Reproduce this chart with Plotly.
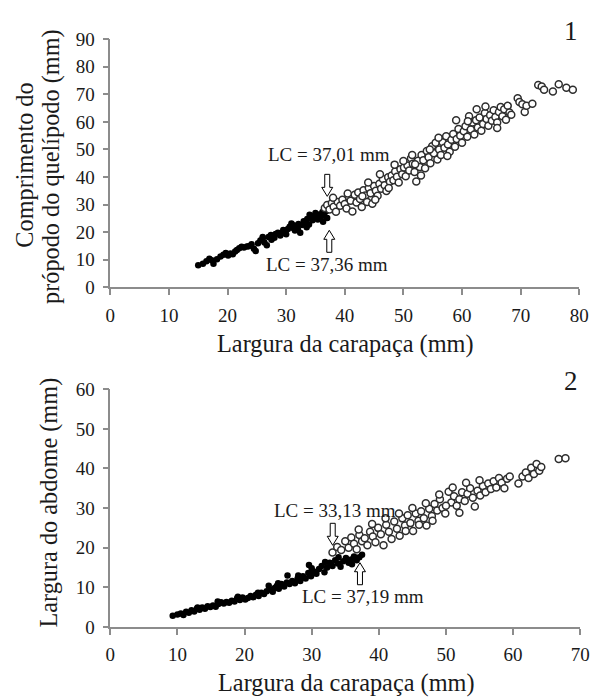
import plotly.graph_objects as go

# ---------------- Panel 1: Comprimento do própodo vs Largura da carapaça ----------------
p1_juv_x = [15.0, 15.8, 16.4, 16.9, 17.3, 17.6, 18.2, 18.8, 19.3, 19.7, 20.1, 20.5, 20.9, 21.3, 21.6,
            22.0, 22.4, 22.8, 23.3, 24.1, 24.5, 24.8, 25.2, 25.6, 26.0, 26.3, 26.7, 27.0, 27.4, 27.8,
            28.2, 28.6, 29.0, 29.3, 29.7, 30.0, 30.3, 30.6, 30.9, 31.2, 31.5, 31.8, 32.1, 32.4, 32.7,
            33.0, 33.3, 33.6, 33.9, 34.2, 34.5, 34.8, 35.1, 35.4, 35.7, 36.0, 36.2, 36.5, 36.8, 37.0,
            37.2, 31.0, 29.5, 27.5, 28.0, 33.5, 35.0, 36.3, 34.0, 32.0, 26.0, 23.6]
p1_juv_y = [8.0, 8.6, 9.5, 10.4, 9.8, 8.6, 10.2, 11.2, 11.8, 12.5, 11.6, 12.3, 12.0, 13.0, 13.6,
            14.2, 14.7, 14.5, 14.8, 15.6, 14.0, 13.2, 16.0, 17.0, 17.8, 16.3, 15.3, 18.3, 19.0, 18.6,
            19.4, 19.8, 18.8, 19.6, 20.2, 19.3, 21.2, 22.0, 23.2, 21.5, 20.6, 22.4, 23.0, 19.8, 22.6,
            24.0, 23.2, 24.8, 22.8, 25.2, 24.3, 26.0, 25.3, 24.6, 26.4, 25.8, 27.3, 26.1, 27.6, 25.2,
            28.3, 22.8, 20.8, 17.3, 18.0, 21.8, 27.0, 23.8, 26.3, 21.0, 18.3, 14.9]

p1_ad_x = [36.6, 37.0, 37.4, 37.8, 38.1, 38.5, 38.8, 39.2, 39.6, 40.0, 40.3, 40.7, 41.0, 41.3, 41.7,
           42.0, 42.3, 42.6, 42.9, 43.2, 43.5, 43.8, 44.1, 44.4, 44.7, 45.0, 45.3, 45.6, 45.9, 46.2,
           46.5, 46.8, 47.1, 47.4, 47.7, 48.0, 48.3, 48.6, 48.9, 49.2, 49.5, 49.8, 50.1, 50.4, 50.7,
           51.0, 51.3, 51.6, 51.9, 52.2, 52.5, 52.8, 53.1, 53.4, 53.7, 54.0, 54.3, 54.6, 54.9, 55.2,
           55.5, 55.8, 56.1, 56.4, 56.7, 57.0, 57.3, 57.6, 57.9, 58.2, 58.5, 58.8, 59.1, 59.4, 59.7,
           60.0, 60.3, 60.6, 60.9, 61.2, 61.5, 61.8, 62.1, 62.4, 62.7, 63.0, 63.3, 63.6, 63.9, 64.2,
           64.5, 64.8, 65.1, 65.4, 65.7, 66.0, 66.3, 66.6, 66.9, 67.2, 67.5, 67.8, 68.1, 68.4, 69.5,
           69.8, 70.3, 70.7, 71.0, 72.0, 73.0, 73.6, 74.0, 75.5, 76.5, 77.8, 78.9,
           43.0, 45.2, 47.5, 50.0, 52.0, 53.0, 54.5, 56.0, 57.5, 59.0, 61.0, 62.5, 64.0, 66.0,
           40.5, 38.0, 44.0, 46.0, 48.5, 51.5]
p1_ad_y = [28.8, 29.9, 28.2, 30.6, 29.2, 27.4, 31.0, 29.6, 31.8, 30.2, 28.6, 32.9, 31.4, 27.5, 33.6,
           30.8, 34.4, 32.0, 29.1, 35.2, 33.3, 31.0, 36.0, 34.1, 30.3, 36.8, 35.0, 33.2, 37.6, 35.8,
           39.3, 37.0, 34.9, 39.9, 38.3, 40.6, 38.8, 42.0, 40.1, 38.0, 42.8, 41.0, 43.5, 40.3, 44.2,
           42.4, 46.8, 44.8, 41.8, 38.4, 45.9, 43.6, 48.0, 46.1, 43.2, 49.4, 47.2, 45.0, 51.2, 48.6,
           52.4, 46.4, 50.0, 48.0, 52.6, 50.6, 54.8, 51.8, 49.2, 53.5, 55.6, 51.0, 53.8, 57.4, 55.0,
           52.4, 56.6, 58.4, 54.6, 62.0, 57.2, 59.8, 55.4, 60.6, 58.0, 61.6, 56.8, 59.2, 63.2, 61.0,
           58.6, 62.4, 60.4, 64.2, 61.8, 59.8, 63.6, 65.4, 62.0, 64.6, 60.8, 65.8, 63.4, 62.6, 68.6,
           67.2, 66.4, 63.6, 65.8, 66.6, 73.4, 72.8, 71.6, 71.0, 73.6, 72.4, 71.6,
           33.0, 31.8, 36.0, 45.8, 44.6, 40.6, 50.0, 54.2, 47.6, 60.6, 60.2, 64.6, 65.6, 57.8,
           34.0, 32.5, 38.0, 41.0, 44.5, 48.0]

# ---------------- Panel 2: Largura do abdome vs Largura da carapaça ----------------
p2_juv_x = [9.3, 10.0, 10.5, 10.9, 11.3, 11.7, 12.1, 12.5, 12.9, 13.3, 13.7, 14.1, 14.5, 14.9, 15.3,
            15.7, 16.1, 16.5, 16.9, 17.3, 17.7, 18.1, 18.5, 18.9, 19.3, 19.7, 20.1, 20.5, 20.9, 21.3,
            21.7, 22.1, 22.5, 22.9, 23.3, 23.6, 23.9, 24.2, 24.5, 24.8, 25.1, 25.5, 25.9, 26.3, 26.4,
            26.7, 27.1, 27.5, 27.9, 28.3, 28.7, 29.1, 29.5, 29.6, 29.9, 30.3, 30.7, 31.1, 31.5, 31.9,
            32.3, 32.7, 33.1, 33.5, 33.9, 34.3, 34.7, 35.1, 35.5, 35.9, 36.3, 36.7, 37.1, 37.5,
            30.0, 28.0, 32.0, 34.0, 36.0, 25.0, 22.0, 19.0, 16.0, 13.0]
p2_juv_y = [2.8, 3.1, 3.4, 3.0, 3.8, 3.6, 4.2, 3.9, 4.6, 4.3, 4.9, 4.6, 5.2, 5.0, 5.4,
            5.1, 5.8, 6.2, 5.9, 6.3, 6.1, 6.6, 6.4, 7.2, 6.8, 7.4, 6.9, 7.3, 7.8, 7.5,
            8.1, 7.8, 8.6, 8.3, 9.0, 10.4, 9.4, 8.9, 9.8, 10.3, 9.6, 10.8, 10.2, 11.2, 13.0,
            10.8, 11.6, 11.0, 12.2, 11.6, 12.8, 12.2, 13.6, 15.6, 12.8, 14.0, 13.4, 14.6, 15.4, 13.8,
            15.0, 16.2, 15.4, 16.8, 16.0, 15.2, 16.6, 17.4, 16.2, 17.0, 17.8, 16.8, 17.6, 18.2,
            14.8, 13.0, 16.4, 17.6, 15.8, 11.0, 8.6, 7.6, 6.4, 4.9]

p2_ad_x = [33.1, 33.8, 34.4, 35.0, 35.5, 35.9, 36.3, 36.7, 37.1, 37.5, 37.9, 38.3, 38.7, 39.1, 39.5,
           39.9, 40.3, 40.7, 41.1, 41.5, 41.9, 42.3, 42.7, 43.1, 43.5, 43.9, 44.3, 44.7, 45.1, 45.5,
           45.9, 46.3, 46.7, 47.1, 47.5, 47.9, 48.3, 48.7, 49.1, 49.5, 49.9, 50.4, 50.8, 51.2, 51.6,
           52.0, 52.4, 52.8, 53.2, 53.6, 54.0, 54.3, 54.7, 55.1, 55.5, 55.9, 56.3, 56.7, 57.1, 57.5,
           57.9, 58.3, 58.7, 59.1, 59.5, 60.8, 61.4, 61.9, 62.3, 62.7, 63.1, 63.5, 63.9, 64.2, 66.8,
           67.8, 37.0, 39.0, 41.0, 43.0, 45.0, 47.0, 49.0, 51.0, 53.0, 55.0, 44.0, 46.0, 48.0, 50.0,
           52.0]
p2_ad_y = [18.8, 20.2, 19.4, 21.6, 20.0, 22.6, 21.0, 19.6, 23.2, 21.6, 22.4, 20.6, 24.0, 22.8, 21.4,
           25.0, 23.4, 20.6, 25.8, 24.0, 22.2, 26.6, 24.8, 23.0, 27.4, 25.6, 28.2, 26.2, 24.2, 28.6,
           26.8, 29.2, 27.4, 25.6, 29.8, 28.0, 31.0, 29.4, 32.2, 30.0, 28.6, 34.1, 31.4, 33.0, 30.6,
           32.2, 34.0, 31.8, 33.6, 35.0, 32.6, 30.4, 34.4, 33.2, 35.6, 34.0, 36.2, 34.8, 36.8, 35.2,
           37.6, 36.4, 35.0, 37.4, 38.0, 36.2, 38.0, 39.0, 37.6, 40.2, 38.6, 41.1, 39.4, 40.4, 42.4,
           42.6, 24.6, 26.0, 27.4, 28.6, 30.0, 31.2, 33.4, 35.2, 36.4, 37.0, 24.2, 25.8, 26.8, 30.6,
           28.8]

# Ticks and labels
p1_x_ticks = [0, 10, 20, 30, 40, 50, 60, 70, 80]
p1_y_ticks = [0, 10, 20, 30, 40, 50, 60, 70, 80, 90]
p2_x_ticks = [0, 10, 20, 30, 40, 50, 60, 70]
p2_y_ticks = [0, 10, 20, 30, 40, 50, 60]
x_title = "Largura da carapaça (mm)"
p1_y_title_lines = ["Comprimento do", "própodo do quelípodo (mm)"]
p2_y_title = "Largura do abdome (mm)"
p1_lc_top, p1_lc_bottom = 37.01, 37.36
p2_lc_top, p2_lc_bottom = 33.13, 37.19

W, H = 599, 699
SERIF = "Liberation Serif"
TXT = "#1a1a1a"
AX = "#8c8c8c"

fig = go.Figure()
juv_marker = dict(color="black", size=6.5, line=dict(width=0))
ad_marker = dict(color="white", size=7, line=dict(color="#2e2e2e", width=1.5))

fig.add_trace(go.Scatter(x=p1_juv_x, y=p1_juv_y, mode="markers", marker=juv_marker, xaxis="x", yaxis="y"))
fig.add_trace(go.Scatter(x=p1_ad_x, y=p1_ad_y, mode="markers", marker=ad_marker, xaxis="x", yaxis="y"))
fig.add_trace(go.Scatter(x=p2_juv_x, y=p2_juv_y, mode="markers", marker=juv_marker, xaxis="x2", yaxis="y2"))
fig.add_trace(go.Scatter(x=p2_ad_x, y=p2_ad_y, mode="markers", marker=ad_marker, xaxis="x2", yaxis="y2"))

def ax(**kw):
    d = dict(showline=True, linecolor=AX, linewidth=1.5, ticks="outside", ticklen=6,
             tickcolor=AX, tickwidth=1.5, showgrid=False, zeroline=False,
             tickfont=dict(family=SERIF, size=19, color=TXT), fixedrange=True)
    d.update(kw)
    return d

fig.update_layout(
    width=W, height=H, margin=dict(l=0, r=0, t=0, b=0),
    font=dict(family=SERIF, size=19, color=TXT),
    paper_bgcolor="white", plot_bgcolor="white", showlegend=False,
    xaxis=ax(range=[0, 80], tickvals=p1_x_ticks, domain=[108 / W, 589 / W], anchor="y",
             ticklabelstandoff=4),
    yaxis=ax(range=[0, 90], tickvals=p1_y_ticks, domain=[1 - 286 / H, 1 - 30 / H], anchor="x",
             ticklabelstandoff=4),
    xaxis2=ax(range=[0, 70], tickvals=p2_x_ticks, domain=[108 / W, 590 / W], anchor="y2",
              ticklabelstandoff=4),
    yaxis2=ax(range=[0, 60], tickvals=p2_y_ticks, domain=[1 - 636 / H, 1 - 391 / H], anchor="x2",
              ticklabelstandoff=4),
)

anns = []
def paper_text(text, px, py, size, angle=0, yanchor="middle", yshift=0):
    anns.append(dict(text=text, x=px / W, y=1 - py / H, xref="paper", yref="paper",
                     xanchor="center", yanchor=yanchor, showarrow=False, textangle=angle,
                     yshift=yshift, font=dict(family=SERIF, size=size, color=TXT)))

paper_text(x_title, 349, 344, 24.3)
paper_text(x_title, 350, 699, 24.3, yanchor="bottom", yshift=-11)
paper_text(p1_y_title_lines[0], 20, 160, 24.3, angle=-90)
paper_text(p1_y_title_lines[1], 47, 161, 24.3, angle=-90)
paper_text(p2_y_title, 45, 508, 24.3, angle=-90)
paper_text("1", 581, 22, 27)
paper_text("2", 581, 383, 27)

def data_text(text, x, y, xr, yr):
    anns.append(dict(text=text, x=x, y=y, xref=xr, yref=yr, showarrow=False,
                     xanchor="center", yanchor="middle",
                     font=dict(family=SERIF, size=19, color=TXT)))

data_text("LC = 37,01 mm", 37.3, 48.2, "x", "y")
data_text("LC = 37,36 mm", 37.0, 8.4, "x", "y")
data_text("LC = 33,13 mm", 33.4, 29.4, "x2", "y2")
data_text("LC = 37,19 mm", 37.7, 7.7, "x2", "y2")
fig.update_layout(annotations=anns)

DOWN = "M0,0 L-5.5,9 L-2.5,9 L-2.5,22 L2.5,22 L2.5,9 L5.5,9 Z"
UP = "M0,0 L-5.5,-9 L-2.5,-9 L-2.5,-22 L2.5,-22 L2.5,-9 L5.5,-9 Z"
def arrow(path, x, y, xr, yr):
    fig.add_shape(type="path", path=path, xref=xr, yref=yr, xsizemode="pixel", ysizemode="pixel",
                  xanchor=x, yanchor=y, line=dict(color="black", width=1), fillcolor="white", layer="above")

arrow(DOWN, p1_lc_top, 33.0, "x", "y")
arrow(UP, p1_lc_bottom, 20.7, "x", "y")
arrow(DOWN, p2_lc_top, 20.6, "x2", "y2")
arrow(UP, p2_lc_bottom, 16.2, "x2", "y2")

fig.write_html("out.html")
